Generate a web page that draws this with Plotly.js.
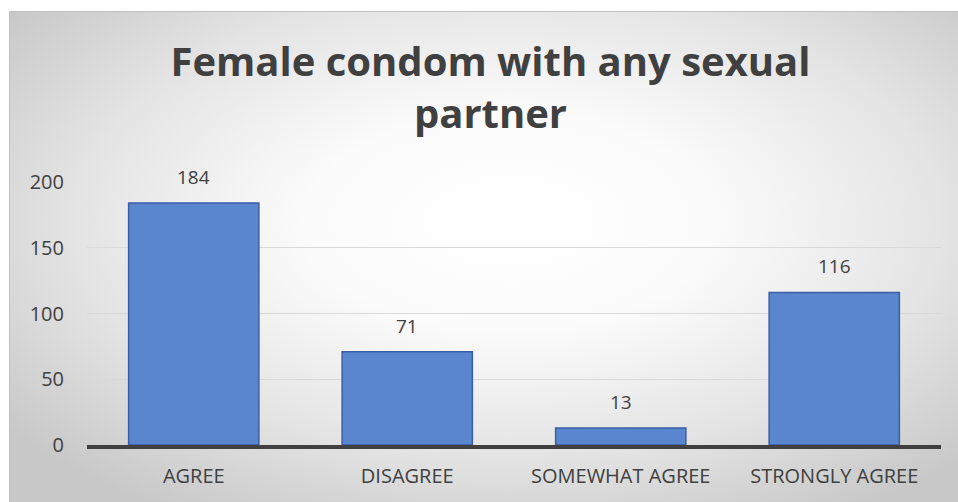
<!DOCTYPE html>
<html>
<head>
<meta charset="utf-8">
<script src="https://cdn.plot.ly/plotly-3.0.1.min.js"></script>
<style>
  html, body { margin: 0; padding: 0; width: 958px; height: 502px; overflow: hidden; background: #ffffff; }
  #frame { position: absolute; left: 9px; top: 11px; width: 960px; height: 500px;
    border: 1px solid #c0c0c0;
    background: radial-gradient(ellipse 60% 62% at 52% 42%, #ffffff 0%, #fbfbfb 35%, #e4e4e4 75%, #c8c8c8 110%); }
  #chart { position: absolute; left: 0; top: 0; width: 958px; height: 502px; }
</style>
</head>
<body>
<div id="frame"></div>
<div id="chart"></div>
<script>
const categories = ["AGREE", "DISAGREE", "SOMEWHAT AGREE", "STRONGLY AGREE"];
const values = [184, 71, 13, 116];
const yTicks = [0, 50, 100, 150, 200];
const titleText = "Female condom with any sexual<br>partner";

const textColor = "#404040";
const font = "'Open Sans', sans-serif";

const trace = {
  type: "bar",
  x: categories,
  y: values,
  marker: { color: "#5A86CD", line: { color: "#3A5EA6", width: 1.5 } },
  hoverinfo: "skip"
};

const annotations = categories.map((c, i) => ({
  x: c, y: values[i], xref: "x", yref: "y",
  text: String(values[i]), showarrow: false,
  yanchor: "bottom", yshift: 11,
  font: { family: font, size: 19, color: textColor }
}));

const layout = {
  width: 958, height: 502,
  margin: { l: 87, r: 17, t: 182, b: 57 },
  paper_bgcolor: "rgba(0,0,0,0)",
  plot_bgcolor: "rgba(0,0,0,0)",
  bargap: 0.39,
  showlegend: false,
  title: {
    text: titleText,
    font: { family: font, size: 40, color: textColor, weight: "bold" },
    x: 0.512, xref: "container", xanchor: "center",
    y: 0.848, yref: "container", yanchor: "top"
  },
  xaxis: {
    type: "category",
    showgrid: false,
    showline: true, linecolor: "#404040", linewidth: 3.5,
    ticks: "", ticklabelstandoff: 10,
    tickfont: { family: font, size: 20, color: textColor },
    fixedrange: true
  },
  yaxis: {
    range: [0, 200],
    tickvals: yTicks,
    ticktext: yTicks.map(String),
    showgrid: true, gridcolor: "#d9d9d9", gridwidth: 1,
    zeroline: false, showline: false,
    ticks: "", ticklabelstandoff: 22,
    tickfont: { family: font, size: 20, color: textColor },
    fixedrange: true
  },
  annotations: annotations
};

Plotly.newPlot("chart", [trace], layout, { displayModeBar: false, staticPlot: true });
</script>
</body>
</html>
